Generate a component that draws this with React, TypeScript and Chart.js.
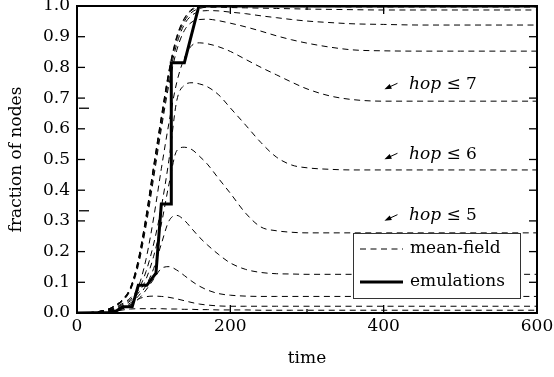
import React, { useEffect, useRef } from "react";
import { Chart, registerables } from "chart.js";

Chart.register(...registerables);

// ---- data ----
const TIME = [0, 20, 40, 50, 60, 70, 80, 90, 100, 110, 120, 130, 140, 150, 160, 170, 185, 200, 220, 240, 260, 280, 300, 330, 360, 400, 450, 500, 600];

const HOP_1 = [0, 0.001, 0.003, 0.006, 0.01, 0.013, 0.014, 0.014, 0.014, 0.014, 0.013, 0.013, 0.012, 0.012, 0.011, 0.011, 0.01, 0.01, 0.01, 0.009, 0.009, 0.009, 0.009, 0.009, 0.009, 0.009, 0.009, 0.009, 0.009];
const HOP_2 = [0, 0.001, 0.004, 0.008, 0.014, 0.026, 0.045, 0.053, 0.055, 0.054, 0.051, 0.046, 0.04, 0.034, 0.029, 0.026, 0.023, 0.022, 0.022, 0.022, 0.022, 0.022, 0.022, 0.022, 0.022, 0.022, 0.022, 0.022, 0.022];
const HOP_3 = [0, 0.001, 0.005, 0.01, 0.017, 0.028, 0.045, 0.075, 0.11, 0.145, 0.151, 0.14, 0.122, 0.103, 0.087, 0.075, 0.063, 0.058, 0.055, 0.054, 0.054, 0.054, 0.054, 0.054, 0.054, 0.054, 0.054, 0.054, 0.054];
const HOP_4 = [0, 0.001, 0.006, 0.012, 0.02, 0.033, 0.055, 0.09, 0.145, 0.225, 0.3, 0.318, 0.302, 0.274, 0.246, 0.222, 0.19, 0.163, 0.142, 0.132, 0.128, 0.127, 0.126, 0.126, 0.126, 0.126, 0.126, 0.126, 0.126];
const HOP_5 = [0, 0.001, 0.007, 0.014, 0.024, 0.04, 0.065, 0.11, 0.185, 0.29, 0.42, 0.528, 0.54, 0.532, 0.51, 0.485, 0.437, 0.39, 0.325, 0.28, 0.268, 0.263, 0.261, 0.261, 0.261, 0.261, 0.261, 0.261, 0.261];
const HOP_6 = [0, 0.001, 0.008, 0.016, 0.028, 0.045, 0.075, 0.135, 0.225, 0.345, 0.5, 0.69, 0.742, 0.75, 0.746, 0.737, 0.71, 0.668, 0.612, 0.555, 0.508, 0.482, 0.473, 0.468, 0.466, 0.466, 0.466, 0.466, 0.466];
const HOP_7 = [0, 0.001, 0.009, 0.018, 0.032, 0.05, 0.085, 0.175, 0.31, 0.47, 0.62, 0.75, 0.83, 0.872, 0.88, 0.877, 0.867, 0.852, 0.826, 0.8, 0.776, 0.752, 0.73, 0.707, 0.695, 0.69, 0.69, 0.69, 0.69];
const HOP_8 = [0, 0.002, 0.011, 0.022, 0.04, 0.076, 0.155, 0.283, 0.44, 0.6, 0.745, 0.855, 0.92, 0.948, 0.956, 0.957, 0.952, 0.944, 0.932, 0.918, 0.903, 0.89, 0.879, 0.866, 0.857, 0.854, 0.853, 0.853, 0.853];
const HOP_9 = [0, 0.002, 0.011, 0.023, 0.042, 0.079, 0.162, 0.295, 0.455, 0.615, 0.765, 0.875, 0.94, 0.97, 0.982, 0.985, 0.984, 0.98, 0.975, 0.968, 0.962, 0.956, 0.951, 0.946, 0.942, 0.94, 0.938, 0.938, 0.938];
const HOP_10 = [0, 0.002, 0.011, 0.024, 0.044, 0.082, 0.168, 0.305, 0.47, 0.63, 0.78, 0.89, 0.95, 0.98, 0.992, 0.996, 0.996, 0.995, 0.994, 0.993, 0.992, 0.991, 0.99, 0.989, 0.988, 0.987, 0.987, 0.987, 0.987];
const HOP_11 = [0, 0.002, 0.012, 0.025, 0.045, 0.084, 0.173, 0.312, 0.477, 0.637, 0.787, 0.897, 0.957, 0.987, 0.996, 0.999, 0.999, 0.999, 0.999, 0.999, 0.998, 0.998, 0.998, 0.998, 0.997, 0.997, 0.997, 0.997, 0.997];
const HOP_ALL = [0, 0.002, 0.012, 0.025, 0.045, 0.085, 0.175, 0.315, 0.48, 0.64, 0.79, 0.9, 0.96, 0.99, 0.998, 1, 1, 1, 1, 1, 1, 1, 1, 1, 1, 1, 1, 1, 1];

const EMU_TIME = [0, 45, 52, 60, 72, 80, 91, 103, 110, 123, 123, 140, 159, 600];
const EMU_FRACTION = [0, 0.002, 0.008, 0.02, 0.02, 0.09, 0.09, 0.13, 0.355, 0.355, 0.815, 0.815, 1, 1];

const X_TICKS = [0, 200, 400, 600];
const X_MINOR_TICKS = [300];
const Y_TICKS = [0, 0.1, 0.2, 0.3, 0.4, 0.5, 0.6, 0.7, 0.8, 0.9, 1.0];
const Y_EXTRA_TICKS = [0.333, 0.667];

const HOP_LABELS = ["7", "6", "5"];
const HOP_LABEL_Y = [0.745, 0.517, 0.317];
const HOP_LABEL_T = 433;
const ARROW_FROM_T = 418;
const ARROW_TO_T = 401;

const LEGEND_LABELS = ["mean-field", "emulations"];

const MEAN_FIELD = [HOP_1, HOP_2, HOP_3, HOP_4, HOP_5, HOP_6, HOP_7, HOP_8, HOP_9, HOP_10, HOP_11, HOP_ALL];

const FONT = "'DejaVu Serif', serif";
const INK = "#000";

const overlayPlugin = {
  id: "overlay",
  afterDatasetsDraw(chart: any) {
    const { ctx, chartArea: a, scales } = chart;
    const xs = scales.x;
    const ys = scales.y;
    const seg = (x1: number, y1: number, x2: number, y2: number) => {
      ctx.beginPath();
      ctx.moveTo(x1, y1);
      ctx.lineTo(x2, y2);
      ctx.stroke();
    };
    ctx.save();
    ctx.setLineDash([]);
    ctx.strokeStyle = INK;
    ctx.fillStyle = INK;

    // inward ticks
    ctx.lineWidth = 1.3;
    Y_TICKS.forEach((v) => {
      const y = ys.getPixelForValue(v);
      seg(a.left, y, a.left + 8, y);
      seg(a.right, y, a.right - 8, y);
    });
    Y_EXTRA_TICKS.forEach((v) => {
      const y = ys.getPixelForValue(v);
      seg(a.left + 2, y, a.left + 12, y);
    });
    X_TICKS.forEach((v) => {
      const x = xs.getPixelForValue(v);
      seg(x, a.bottom, x, a.bottom - 8);
      seg(x, a.top, x, a.top + 8);
    });
    X_MINOR_TICKS.forEach((v) => {
      const x = xs.getPixelForValue(v);
      seg(x, a.bottom, x, a.bottom - 4);
      seg(x, a.top, x, a.top + 4);
    });

    // frame
    ctx.lineWidth = 2;
    ctx.strokeRect(a.left, a.top, a.right - a.left, a.bottom - a.top);

    // hop annotations with arrows
    ctx.textBaseline = "middle";
    ctx.textAlign = "left";
    HOP_LABELS.forEach((k, i) => {
      const y = ys.getPixelForValue(HOP_LABEL_Y[i]);
      const x0 = xs.getPixelForValue(ARROW_FROM_T);
      const x1 = xs.getPixelForValue(ARROW_TO_T);
      const y0 = y - 1;
      const y1 = y + 5;
      ctx.lineWidth = 1;
      seg(x0, y0, x1 + 3, y1 - 1.4);
      const ang = Math.atan2(y1 - y0, x1 - x0);
      const len = 7;
      const w = 2.6;
      ctx.beginPath();
      ctx.moveTo(x1, y1);
      ctx.lineTo(x1 - len * Math.cos(ang) - w * Math.sin(ang), y1 - len * Math.sin(ang) + w * Math.cos(ang));
      ctx.lineTo(x1 - len * Math.cos(ang) + w * Math.sin(ang), y1 - len * Math.sin(ang) - w * Math.cos(ang));
      ctx.closePath();
      ctx.fill();
      const tx = xs.getPixelForValue(HOP_LABEL_T);
      ctx.font = `italic 17px ${FONT}`;
      ctx.fillText("hop", tx, y);
      const wHop = ctx.measureText("hop").width;
      ctx.font = `17px ${FONT}`;
      ctx.fillText(" \u2264 " + k, tx + wHop, y);
    });

    // legend box
    const bx = a.right - 184;
    const by = a.bottom - 80;
    const bw = 167;
    const bh = 65;
    ctx.fillStyle = "#fff";
    ctx.fillRect(bx, by, bw, bh);
    ctx.strokeStyle = "#333";
    ctx.lineWidth = 1;
    ctx.strokeRect(bx + 0.5, by + 0.5, bw, bh);
    ctx.strokeStyle = INK;
    ctx.fillStyle = INK;
    const rows = [by + 16, by + 49];
    ctx.lineWidth = 1;
    ctx.setLineDash([6, 4.5]);
    seg(bx + 7, rows[0], bx + 50, rows[0]);
    ctx.setLineDash([]);
    ctx.lineWidth = 3;
    seg(bx + 7, rows[1], bx + 50, rows[1]);
    ctx.font = `17px ${FONT}`;
    ctx.textBaseline = "middle";
    ctx.fillText(LEGEND_LABELS[0], bx + 57, rows[0]);
    ctx.fillText(LEGEND_LABELS[1], bx + 57, rows[1]);

    ctx.restore();
  },
};

export default function App() {
  const canvasRef = useRef<HTMLCanvasElement | null>(null);

  useEffect(() => {
    const canvas = canvasRef.current;
    if (!canvas) return;
    const datasets: any[] = [
      {
        label: "emulations",
        data: EMU_TIME.map((t, i) => ({ x: t, y: EMU_FRACTION[i] })),
        borderColor: INK,
        borderWidth: 3,
        pointRadius: 0,
        tension: 0,
        borderJoinStyle: "miter",
        fill: false,
      },
      ...MEAN_FIELD.map((arr, k) => ({
        label: `hop \u2264 ${k + 1}`,
        data: TIME.map((t, i) => ({ x: t, y: arr[i] })),
        borderColor: INK,
        borderWidth: 1,
        borderDash: [6, 4.5],
        pointRadius: 0,
        cubicInterpolationMode: "monotone",
        fill: false,
      })),
    ];

    const chart = new Chart(canvas, {
      type: "line",
      data: { datasets },
      options: {
        responsive: false,
        animation: false,
        devicePixelRatio: 1,
        layout: { padding: { top: 6, right: 17, left: 0, bottom: 0 } },
        plugins: { legend: { display: false }, tooltip: { enabled: false } },
        scales: {
          x: {
            type: "linear",
            min: 0,
            max: 600,
            afterBuildTicks: (s: any) => {
              s.ticks = X_TICKS.map((v) => ({ value: v }));
            },
            grid: { display: false, drawTicks: false },
            border: { display: false },
            ticks: {
              font: { family: FONT, size: 17 },
              color: INK,
              padding: 3,
              maxRotation: 0,
              autoSkip: false,
              callback: (v: any) => String(v),
            },
            title: {
              display: true,
              text: "time",
              font: { family: FONT, size: 17 },
              color: INK,
              padding: { top: 0, bottom: 8 },
            },
            afterFit: (s: any) => {
              s.height = 64;
              s.paddingLeft = 0;
              s.paddingRight = 0;
            },
          },
          y: {
            type: "linear",
            min: 0,
            max: 1,
            afterBuildTicks: (s: any) => {
              s.ticks = Y_TICKS.map((v) => ({ value: v }));
            },
            grid: { display: false, drawTicks: false },
            border: { display: false },
            ticks: {
              font: { family: FONT, size: 17 },
              color: INK,
              padding: 7,
              autoSkip: false,
              callback: (v: any) => Number(v).toFixed(1),
            },
            title: {
              display: true,
              text: "fraction of nodes",
              font: { family: FONT, size: 17 },
              color: INK,
              padding: { top: 6, bottom: 0 },
            },
            afterFit: (s: any) => {
              s.width = 77;
              s.paddingTop = 0;
              s.paddingBottom = 0;
            },
          },
        },
      },
      plugins: [overlayPlugin],
    });
    return () => chart.destroy();
  }, []);

  return (
    <div style={{ position: "fixed", left: 0, top: 0, width: 554, height: 377, background: "#fff" }}>
      <canvas ref={canvasRef} width={554} height={377} style={{ width: 554, height: 377, display: "block" }} />
    </div>
  );
}
